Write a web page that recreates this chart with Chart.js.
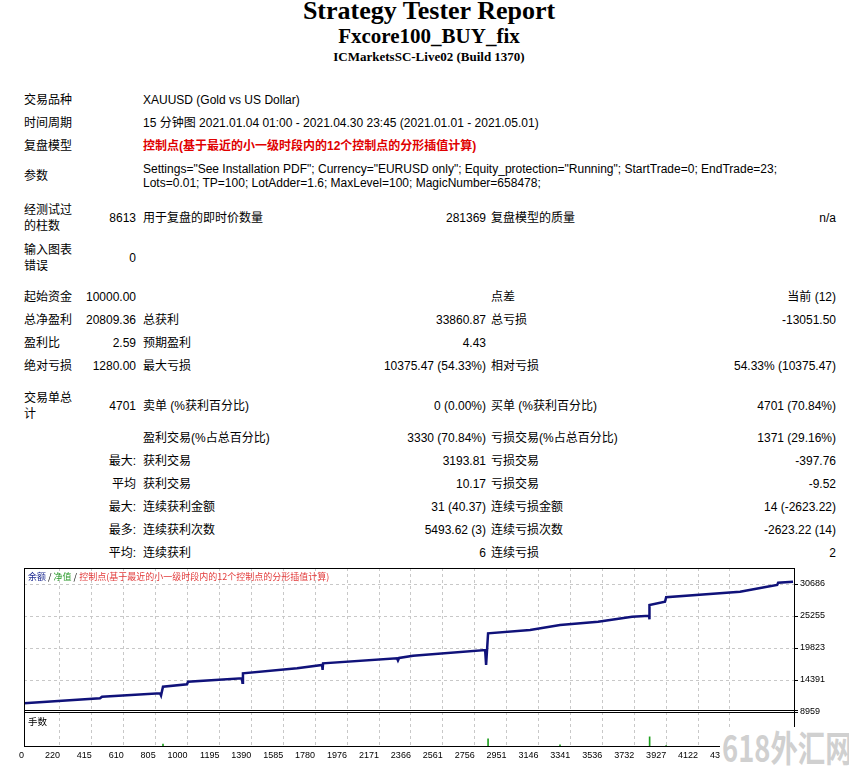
<!DOCTYPE html>
<html>
<head>
<meta charset="utf-8">
<title>Strategy Tester Report</title>
<script src="https://cdn.jsdelivr.net/npm/chart.js@4.4.0/dist/chart.umd.min.js"></script>
<style>
  body { margin: 0; width: 849px; height: 766px; overflow: hidden; background: #fff; position: relative;
         font-family: "Liberation Sans", "Noto Sans CJK SC", sans-serif; font-size: 12px; color: #000; }
  .cab { position: absolute; left: 0; width: 858px; text-align: center; white-space: nowrap;
         font-family: "Liberation Serif", serif; font-weight: bold; }
  #t1 { top: -2px; font-size: 26px; line-height: 26px; }
  #t2 { top: 26px; font-size: 21px; line-height: 21px; }
  #t3 { top: 50px; font-size: 13px; line-height: 13px; }
  table { position: absolute; left: 22px; top: 88px; width: 814px; border-collapse: collapse; table-layout: fixed; }
  td { padding: 0; line-height: 16px; vertical-align: middle; }
  td.l { padding-left: 2px; }
  td.r { text-align: right; }
  td.a { padding-left: 7px; }
  td.b { padding-left: 5px; }
  td.rojo { color: #e00000; font-weight: bold; }
  td.par { line-height: 14px; }
  #grafico { position: absolute; left: 0; top: 560px; }
  #leyenda { position: absolute; left: 28px; top: 571px; font-family: "Noto Sans CJK SC", sans-serif; font-size: 9px; line-height: 12px; white-space: nowrap; }
  #lotes { position: absolute; left: 28px; top: 715px; font-family: "Noto Sans CJK SC", sans-serif; font-size: 9.5px; line-height: 12px; }
  #marca { position: absolute; left: 720px; top: 727px; width: 129px; height: 39px; background: #fff; overflow: hidden; }
  #marca span { display: inline-block; font-family: "Noto Sans CJK SC", sans-serif; font-weight: bold; font-size: 36px; line-height: 39px;
                color: #d0d0d0; transform: scaleX(0.76); transform-origin: left; white-space: nowrap; margin-left: 2px; }
</style>
</head>
<body>
<div class="cab" id="t1">Strategy Tester Report</div>
<div class="cab" id="t2">Fxcore100_BUY_fix</div>
<div class="cab" id="t3">ICMarketsSC-Live02 (Build 1370)</div>

<table>
  <colgroup><col style="width:58px"><col style="width:56px"><col style="width:204px"><col style="width:146px"><col style="width:194px"><col style="width:156px"></colgroup>
  <tr style="height:23px"><td class="l" colspan="2">交易品种</td><td class="a" colspan="4">XAUUSD (Gold vs US Dollar)</td></tr>
  <tr style="height:23px"><td class="l" colspan="2">时间周期</td><td class="a" colspan="4">15 分钟图 2021.01.04 01:00 - 2021.04.30 23:45 (2021.01.01 - 2021.05.01)</td></tr>
  <tr style="height:23px"><td class="l" colspan="2">复盘模型</td><td class="a rojo" colspan="4">控制点(基于最近的小一级时段内的12个控制点的分形插值计算)</td></tr>
  <tr style="height:37px"><td class="l" colspan="2">参数</td><td class="a par" colspan="4">Settings="See Installation PDF"; Currency="EURUSD only"; Equity_protection="Running"; StartTrade=0; EndTrade=23;<br>Lots=0.01; TP=100; LotAdder=1.6; MaxLevel=100; MagicNumber=658478;</td></tr>
  <tr style="height:4px"><td colspan="6"></td></tr>
  <tr style="height:40px"><td class="l">经测试过的柱数</td><td class="r">8613</td><td class="a">用于复盘的即时价数量</td><td class="r">281369</td><td class="b">复盘模型的质量</td><td class="r">n/a</td></tr>
  <tr style="height:40px"><td class="l">输入图表错误</td><td class="r">0</td><td></td><td></td><td></td><td></td></tr>
  <tr style="height:7px"><td colspan="6"></td></tr>
  <tr style="height:23px"><td class="l">起始资金</td><td class="r">10000.00</td><td></td><td></td><td class="b">点差</td><td class="r">当前 (12)</td></tr>
  <tr style="height:23px"><td class="l">总净盈利</td><td class="r">20809.36</td><td class="a">总获利</td><td class="r">33860.87</td><td class="b">总亏损</td><td class="r">-13051.50</td></tr>
  <tr style="height:23px"><td class="l">盈利比</td><td class="r">2.59</td><td class="a">预期盈利</td><td class="r">4.43</td><td></td><td></td></tr>
  <tr style="height:23px"><td class="l">绝对亏损</td><td class="r">1280.00</td><td class="a">最大亏损</td><td class="r">10375.47 (54.33%)</td><td class="b">相对亏损</td><td class="r">54.33% (10375.47)</td></tr>
  <tr style="height:9px"><td colspan="6"></td></tr>
  <tr style="height:40px"><td class="l">交易单总计</td><td class="r">4701</td><td class="a">卖单 (%获利百分比)</td><td class="r">0 (0.00%)</td><td class="b">买单 (%获利百分比)</td><td class="r">4701 (70.84%)</td></tr>
  <tr style="height:23px"><td></td><td></td><td class="a">盈利交易(%占总百分比)</td><td class="r">3330 (70.84%)</td><td class="b">亏损交易(%占总百分比)</td><td class="r">1371 (29.16%)</td></tr>
  <tr style="height:23px"><td></td><td class="r">最大:</td><td class="a">获利交易</td><td class="r">3193.81</td><td class="b">亏损交易</td><td class="r">-397.76</td></tr>
  <tr style="height:23px"><td></td><td class="r">平均</td><td class="a">获利交易</td><td class="r">10.17</td><td class="b">亏损交易</td><td class="r">-9.52</td></tr>
  <tr style="height:23px"><td></td><td class="r">最大:</td><td class="a">连续获利金额</td><td class="r">31 (40.37)</td><td class="b">连续亏损金额</td><td class="r">14 (-2623.22)</td></tr>
  <tr style="height:23px"><td></td><td class="r">最多:</td><td class="a">连续获利次数</td><td class="r">5493.62 (3)</td><td class="b">连续亏损次数</td><td class="r">-2623.22 (14)</td></tr>
  <tr style="height:23px"><td></td><td class="r">平均:</td><td class="a">连续获利</td><td class="r">6</td><td class="b">连续亏损</td><td class="r">2</td></tr>
</table>

<canvas id="grafico" width="849" height="206"></canvas>
<div id="leyenda"><span style="color:#1c2a90">余额</span> / <span style="color:#2a9a2a">净值</span> / <span style="color:#e23a3a">控制点(基于最近的小一级时段内的12个控制点的分形插值计算)</span></div>
<div id="lotes">手数</div>
<div id="marca"><span>618外汇网</span></div>

<script>
const x_ticks = [0, 220, 415, 610, 805, 1000, 1195, 1390, 1585, 1780, 1976, 2171, 2366, 2561, 2756, 2951, 3146, 3341, 3536, 3732, 3927, 4122, 4317];
const y_ticks = [8959, 14391, 19823, 25255, 30686];

// curva de balance (numero de operacion / balance)
const operaciones = [0, 465, 477, 832, 838, 850, 997, 1003, 1333, 1336, 1339, 1670, 1823, 1826, 1829, 2281, 2287, 2294, 2379, 2820, 2826, 2838, 3095, 3278, 3511, 3719, 3823, 3824, 3826, 3920, 3927, 4379, 4544, 4606, 4612, 4703];
const balance = [10436, 11285, 11556, 12133, 11760, 13254, 13661, 14102, 14680, 13933, 15528, 16377, 16937, 16089, 17226, 18075, 17701, 18126, 18516, 19484, 16937, 22318, 22879, 23727, 24287, 25136, 25306, 24695, 27122, 27682, 28429, 29380, 30229, 30517, 30908, 31077];

// panel de lotes
const operaciones_lotes = [850, 2838, 3278, 3826, 3927];
const lotes = [0.08, 0.23, 0.06, 0.29, 0.04];

const fuente = { family: 'Liberation Sans', size: 9 };

const marco = {
    id: 'marco',
    afterDraw(chart) {
        const a = chart.chartArea;
        const sep = Math.round(chart.scales.y.bottom);
        const c = chart.ctx;
        c.save();
        c.strokeStyle = '#000';
        c.lineWidth = 1;
        c.strokeRect(a.left + 0.5, a.top + 0.5, a.right - a.left - 1, a.bottom - a.top - 1);
        c.beginPath();
        c.moveTo(a.left, sep - 1.5);
        c.lineTo(a.right + 3, sep - 1.5);
        c.moveTo(a.left, sep + 0.5);
        c.lineTo(a.right + 3, sep + 0.5);
        c.stroke();
        c.restore();
    }
};

const ctx = document.getElementById('grafico').getContext('2d');
const grafico = new Chart(ctx, {
    type: 'line',
    data: {
    datasets: [{
        label: '余额',
        data: operaciones.map((t, i) => ({ x: t, y: balance[i] })),
        borderColor: '#10127a',
        borderWidth: 2.5,
        pointRadius: 0,
        tension: 0,
        yAxisID: 'y'
    }, {
        type: 'bar',
        label: '手数',
        data: operaciones_lotes.map((t, i) => ({ x: t, y: lotes[i] })),
        backgroundColor: '#1fa01f',
        barThickness: 1,
        yAxisID: 'y2'
    }]
    },
    options: {
    responsive: false,
    animation: false,
    layout: { padding: { left: 24, top: 8, right: 0, bottom: 0 } },
    plugins: {
        legend: { display: false },
        tooltip: { enabled: false }
    },
    scales: {
        x: {
        type: 'linear',
        offset: false,
        min: 0,
        max: 4715,
        afterBuildTicks: s => { s.ticks = x_ticks.map(v => ({ value: v })); },
        afterFit: s => { s.height = 19; },
        ticks: { font: fuente, color: '#000', align: 'end', maxRotation: 0, autoSkip: false, padding: 3, callback: v => String(v) },
        grid: { color: '#c8c8c8', drawTicks: false, offset: false },
        border: { display: false, dash: [3, 3] }
        },
        y: {
        type: 'linear',
        position: 'right',
        stack: 'panel',
        stackWeight: 144,
        min: 8959,
        max: 33403,
        afterBuildTicks: s => { s.ticks = y_ticks.map(v => ({ value: v })); },
        afterFit: s => { s.width = 54; },
        ticks: { font: fuente, color: '#000', padding: 2, callback: v => String(v) },
        grid: { color: '#c8c8c8', tickColor: '#000', tickLength: 3, tickWidth: 1, tickBorderDash: [] },
        border: { display: false, dash: [3, 3] }
        },
        y2: {
        type: 'linear',
        position: 'right',
        stack: 'panel',
        stackWeight: 35,
        min: 0,
        max: 1,
        afterFit: s => { s.width = 54; },
        ticks: { display: false },
        grid: { display: false },
        border: { display: false }
        }
    }
    },
    plugins: [marco]
});
</script>
</body>
</html>
